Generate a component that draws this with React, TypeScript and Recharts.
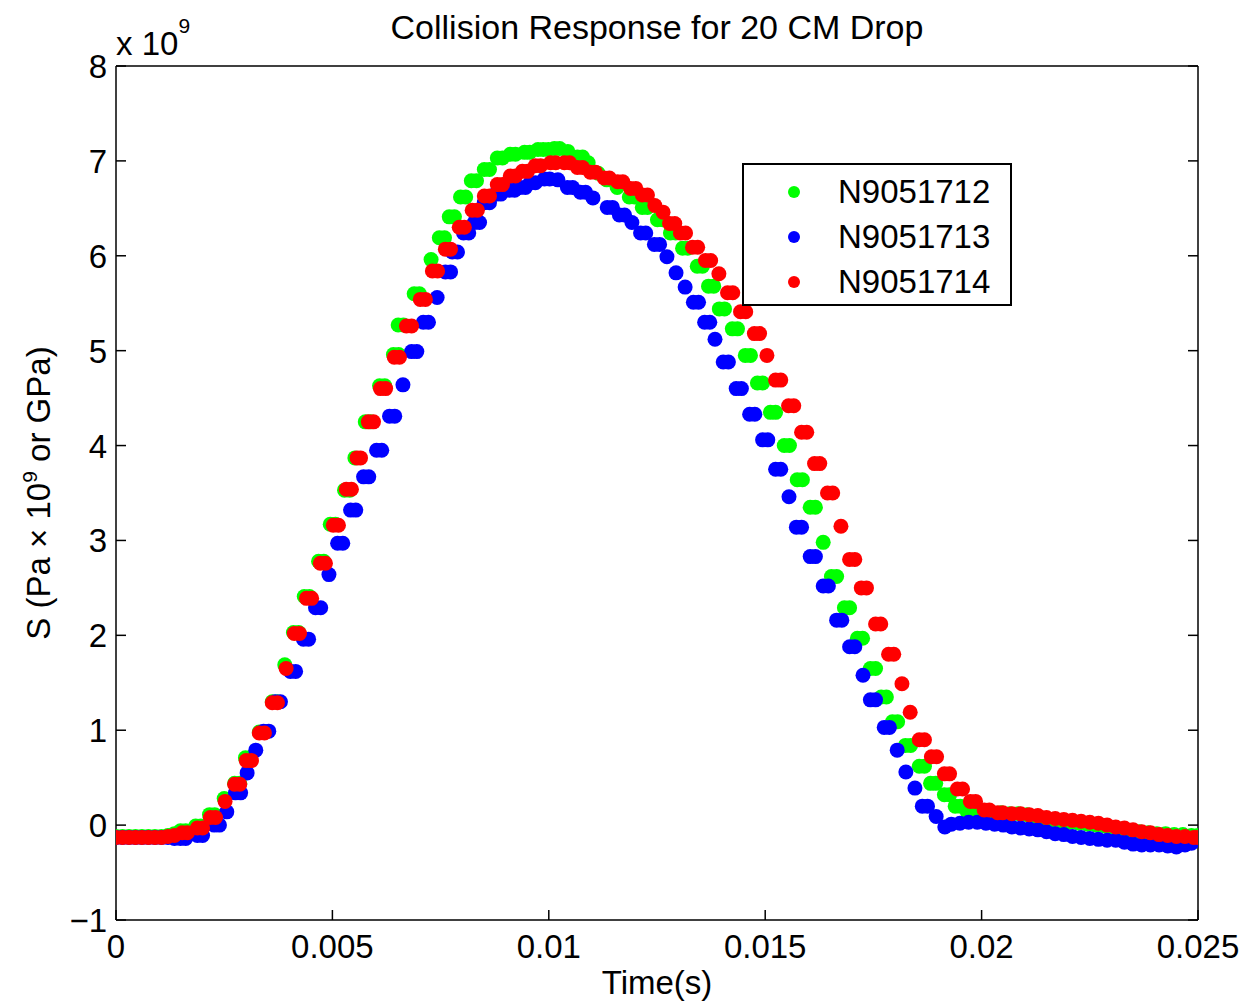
import { ScatterChart, Scatter, XAxis, YAxis, Legend } from 'recharts';

// time in ms, S in Pa x 10^9
const N9051712: [number, number][] = [
  [0, -0.12], [0.15, -0.12], [0.3, -0.12], [0.45, -0.12], [0.6, -0.12], [0.75, -0.12], [0.9, -0.12], [1.05, -0.12], [1.2, -0.11], [1.35, -0.09],
  [1.49, -0.06], [1.61, -0.06], [1.84, -0.01], [1.96, -0.01], [2.16, 0.11], [2.28, 0.11], [2.5, 0.28],
  [2.74, 0.44], [2.86, 0.44], [2.99, 0.71], [3.11, 0.71], [3.31, 0.98], [3.43, 0.98], [3.61, 1.3], [3.73, 1.3],
  [3.9, 1.69], [4.1, 2.03], [4.22, 2.03], [4.35, 2.41], [4.47, 2.41], [4.68, 2.78], [4.8, 2.78],
  [4.95, 3.17], [5.07, 3.17], [5.28, 3.53], [5.4, 3.53], [5.52, 3.87], [5.76, 4.25], [5.88, 4.25],
  [6.09, 4.63], [6.21, 4.63], [6.41, 4.96], [6.53, 4.96], [6.52, 5.27], [6.64, 5.27], [6.89, 5.6], [7.01, 5.6],
  [7.28, 5.96], [7.47, 6.19], [7.59, 6.19], [7.7, 6.41], [7.82, 6.41], [7.96, 6.62], [8.08, 6.62],
  [8.21, 6.79], [8.33, 6.79], [8.51, 6.91], [8.63, 6.91], [8.81, 7.03], [8.93, 7.03], [9.11, 7.07], [9.23, 7.07],
  [9.44, 7.09], [9.56, 7.09], [9.75, 7.12], [9.87, 7.12], [9.99, 7.12], [10.13, 7.13], [10.25, 7.13],
  [10.44, 7.1], [10.66, 7.04], [10.78, 7.04], [10.91, 6.98], [11.14, 6.87], [11.34, 6.8], [11.58, 6.72],
  [11.86, 6.62], [11.98, 6.62], [12.16, 6.51], [12.28, 6.51], [12.51, 6.38], [12.63, 6.38], [12.81, 6.24], [12.93, 6.24],
  [13.09, 6.08], [13.21, 6.08], [13.43, 5.89], [13.55, 5.89], [13.69, 5.68], [13.81, 5.68], [13.94, 5.44], [14.06, 5.44],
  [14.24, 5.23], [14.36, 5.23], [14.54, 4.95], [14.66, 4.95], [14.82, 4.66], [14.94, 4.66], [15.12, 4.35], [15.24, 4.35],
  [15.44, 4.0], [15.56, 4.0], [15.74, 3.64], [15.86, 3.64], [16.04, 3.35], [16.16, 3.35], [16.34, 2.98],
  [16.53, 2.62], [16.65, 2.62], [16.83, 2.29], [16.95, 2.29], [17.13, 1.97], [17.25, 1.97], [17.43, 1.65], [17.55, 1.65],
  [17.68, 1.35], [17.8, 1.35], [17.94, 1.09], [18.06, 1.09], [18.24, 0.84], [18.36, 0.84], [18.56, 0.62], [18.68, 0.62],
  [18.82, 0.44], [18.94, 0.44], [19.14, 0.32], [19.26, 0.32], [19.39, 0.2], [19.51, 0.2], [19.67, 0.14], [19.79, 0.14],
  [19.95, 0.13], [20.1, 0.13], [20.25, 0.13], [20.45, 0.13], [20.65, 0.12], [20.85, 0.12], [21.05, 0.11], [21.25, 0.09],
  [21.45, 0.07], [21.65, 0.05], [21.85, 0.04], [22.05, 0.03], [22.25, 0.02], [22.45, 0.01], [22.65, 0.0], [22.85, -0.01],
  [23.05, -0.03], [23.25, -0.04], [23.45, -0.06], [23.65, -0.07], [23.85, -0.08], [24.05, -0.09], [24.25, -0.09],
  [24.45, -0.1], [24.65, -0.1], [24.85, -0.11], [25.0, -0.11],
];

const N9051713: [number, number][] = [
  [0, -0.13], [0.15, -0.13], [0.3, -0.13], [0.45, -0.13], [0.6, -0.13], [0.75, -0.13], [0.9, -0.13], [1.05, -0.13], [1.2, -0.13], [1.35, -0.14],
  [1.49, -0.14], [1.61, -0.14], [1.88, -0.11], [2.0, -0.11], [2.27, 0.0], [2.39, 0.0], [2.56, 0.14],
  [2.76, 0.34], [2.88, 0.34], [3.03, 0.55], [3.23, 0.79], [3.41, 0.99], [3.53, 0.99], [3.68, 1.3], [3.8, 1.3],
  [4.03, 1.62], [4.15, 1.62], [4.33, 1.96], [4.45, 1.96], [4.61, 2.29], [4.73, 2.29], [4.92, 2.64],
  [5.12, 2.97], [5.24, 2.97], [5.42, 3.32], [5.54, 3.32], [5.72, 3.67], [5.84, 3.67], [6.02, 3.95], [6.14, 3.95],
  [6.32, 4.31], [6.44, 4.31], [6.63, 4.64], [6.83, 4.99], [6.95, 4.99], [7.1, 5.3], [7.22, 5.3], [7.42, 5.56],
  [7.61, 5.83], [7.73, 5.83], [7.77, 6.04], [7.89, 6.04], [8.03, 6.24], [8.15, 6.24], [8.28, 6.35], [8.4, 6.35],
  [8.51, 6.56], [8.63, 6.56], [8.77, 6.65], [8.89, 6.65], [9.09, 6.69], [9.21, 6.69], [9.34, 6.72], [9.46, 6.72],
  [9.57, 6.77], [9.69, 6.77], [9.9, 6.81], [10.02, 6.81], [10.21, 6.8], [10.43, 6.72], [10.55, 6.72],
  [10.73, 6.67], [10.85, 6.67], [11.02, 6.61], [11.35, 6.51], [11.47, 6.51], [11.63, 6.43], [11.75, 6.43], [11.92, 6.35],
  [12.12, 6.24], [12.24, 6.24], [12.44, 6.12], [12.56, 6.12], [12.73, 5.99], [12.94, 5.82], [13.15, 5.67],
  [13.34, 5.51], [13.46, 5.51], [13.6, 5.3], [13.72, 5.3], [13.84, 5.12], [14.03, 4.88], [14.15, 4.88],
  [14.33, 4.6], [14.45, 4.6], [14.64, 4.33], [14.76, 4.33], [14.94, 4.06], [15.06, 4.06], [15.24, 3.75], [15.36, 3.75],
  [15.55, 3.46], [15.72, 3.14], [15.84, 3.14], [16.04, 2.83], [16.16, 2.83], [16.34, 2.52], [16.46, 2.52],
  [16.65, 2.16], [16.77, 2.16], [16.95, 1.88], [17.07, 1.88], [17.26, 1.58], [17.43, 1.32], [17.55, 1.32],
  [17.75, 1.03], [17.87, 1.03], [18.05, 0.79], [18.25, 0.56], [18.46, 0.39], [18.63, 0.2], [18.75, 0.2],
  [18.95, 0.09], [19.15, -0.02], [19.3, 0.01], [19.5, 0.02], [19.7, 0.03], [19.9, 0.03], [20.1, 0.02], [20.3, 0.01],
  [20.5, 0.0], [20.7, -0.02], [20.9, -0.03], [21.1, -0.04], [21.3, -0.05], [21.5, -0.07], [21.7, -0.09], [21.9, -0.1],
  [22.1, -0.12], [22.3, -0.13], [22.5, -0.14], [22.7, -0.15], [22.9, -0.16], [23.1, -0.16], [23.3, -0.18], [23.5, -0.2],
  [23.7, -0.21], [23.9, -0.21], [24.1, -0.21], [24.3, -0.22], [24.5, -0.23], [24.7, -0.21], [24.85, -0.19], [25.0, -0.16],
];

const N9051714: [number, number][] = [
  [0, -0.13], [0.15, -0.13], [0.3, -0.13], [0.45, -0.13], [0.6, -0.13], [0.75, -0.13], [0.9, -0.13], [1.05, -0.13], [1.2, -0.12], [1.35, -0.11],
  [1.53, -0.08], [1.65, -0.08], [1.88, -0.03], [2.0, -0.03], [2.18, 0.08], [2.3, 0.08], [2.52, 0.25],
  [2.74, 0.43], [2.86, 0.43], [3.01, 0.68], [3.13, 0.68], [3.31, 0.97], [3.43, 0.97], [3.61, 1.29], [3.73, 1.29],
  [3.93, 1.65], [4.12, 2.02], [4.24, 2.02], [4.4, 2.39], [4.52, 2.39], [4.72, 2.76], [4.84, 2.76],
  [5.02, 3.16], [5.14, 3.16], [5.32, 3.54], [5.44, 3.54], [5.57, 3.87], [5.65, 3.87], [5.83, 4.25], [5.95, 4.25],
  [6.11, 4.6], [6.23, 4.6], [6.43, 4.93], [6.55, 4.93], [6.71, 5.26], [6.83, 5.26], [7.03, 5.54], [7.15, 5.54],
  [7.31, 5.84], [7.43, 5.84], [7.61, 6.07], [7.73, 6.07], [7.93, 6.3], [8.05, 6.3], [8.23, 6.48], [8.35, 6.48],
  [8.51, 6.63], [8.63, 6.63], [8.81, 6.75], [8.93, 6.75], [9.11, 6.84], [9.23, 6.84], [9.39, 6.89], [9.51, 6.89],
  [9.69, 6.95], [9.81, 6.95], [10.04, 6.98], [10.16, 6.98], [10.36, 6.98], [10.48, 6.98], [10.66, 6.93], [10.78, 6.93],
  [10.96, 6.88], [11.08, 6.88], [11.28, 6.82], [11.4, 6.82], [11.59, 6.78], [11.71, 6.78], [11.89, 6.71], [12.01, 6.71],
  [12.16, 6.64], [12.28, 6.64], [12.45, 6.53], [12.64, 6.46], [12.79, 6.34], [12.91, 6.34], [13.04, 6.24], [13.16, 6.24],
  [13.32, 6.09], [13.44, 6.09], [13.62, 5.95], [13.74, 5.95], [13.93, 5.81], [14.13, 5.61], [14.25, 5.61],
  [14.43, 5.41], [14.55, 5.41], [14.75, 5.18], [14.87, 5.18], [15.04, 4.95], [15.24, 4.69], [15.36, 4.69],
  [15.54, 4.42], [15.66, 4.42], [15.84, 4.14], [15.96, 4.14], [16.14, 3.81], [16.26, 3.81], [16.44, 3.5], [16.56, 3.5],
  [16.75, 3.15], [16.95, 2.8], [17.07, 2.8], [17.22, 2.5], [17.34, 2.5], [17.55, 2.12], [17.67, 2.12],
  [17.85, 1.8], [17.97, 1.8], [18.16, 1.49], [18.35, 1.19], [18.56, 0.9], [18.68, 0.9], [18.84, 0.72], [18.96, 0.72],
  [19.14, 0.54], [19.26, 0.54], [19.44, 0.38], [19.56, 0.38], [19.74, 0.25], [19.86, 0.25], [20.06, 0.16], [20.18, 0.16],
  [20.37, 0.13], [20.49, 0.13], [20.7, 0.12], [20.9, 0.12], [21.1, 0.11], [21.3, 0.1], [21.5, 0.08], [21.7, 0.07],
  [21.9, 0.06], [22.1, 0.05], [22.3, 0.04], [22.5, 0.03], [22.7, 0.02], [22.9, 0.0], [23.1, -0.02], [23.3, -0.03],
  [23.5, -0.05], [23.7, -0.07], [23.9, -0.08], [24.1, -0.1], [24.3, -0.11], [24.5, -0.12], [24.7, -0.12], [24.9, -0.13], [25.0, -0.13],
];

const SERIES = [
  { name: 'N9051712', points: N9051712, color: '#00ff00' },
  { name: 'N9051713', points: N9051713, color: '#0000ff' },
  { name: 'N9051714', points: N9051714, color: '#ff0000' },
];

const X_TICKS = [0, 5, 10, 15, 20, 25];
const X_TICK_LABELS = ['0', '0.005', '0.01', '0.015', '0.02', '0.025'];
const Y_TICKS = [-1, 0, 1, 2, 3, 4, 5, 6, 7, 8];
const Y_TICK_LABELS = ['\u22121', '0', '1', '2', '3', '4', '5', '6', '7', '8'];

const W = 1247;
const H = 1005;
const PLOT = { left: 116, top: 66, right: 1198, bottom: 920 };
const FONT = '"Liberation Sans", Arial, Helvetica, sans-serif';
const FS = 33;
const TICK_LEN = 10;

const BottomTick = ({ x, payload }: any) => (
  <g>
    <line x1={x} x2={x} y1={PLOT.bottom} y2={PLOT.bottom - TICK_LEN} stroke="#000" strokeWidth={1.5} />
    <text x={x} y={PLOT.bottom + 38} textAnchor="middle" fontSize={FS} fontFamily={FONT} fill="#000">
      {X_TICK_LABELS[X_TICKS.indexOf(payload.value)]}
    </text>
  </g>
);

const TopTick = ({ x }: any) => (
  <line x1={x} x2={x} y1={PLOT.top} y2={PLOT.top + TICK_LEN} stroke="#000" strokeWidth={1.5} />
);

const LeftTick = ({ y, payload }: any) => (
  <g>
    <line x1={PLOT.left} x2={PLOT.left + TICK_LEN} y1={y} y2={y} stroke="#000" strokeWidth={1.5} />
    <text x={PLOT.left - 9} y={y + 12} textAnchor="end" fontSize={FS} fontFamily={FONT} fill="#000">
      {Y_TICK_LABELS[Y_TICKS.indexOf(payload.value)]}
    </text>
  </g>
);

const RightTick = ({ y }: any) => (
  <line x1={PLOT.right} x2={PLOT.right - TICK_LEN} y1={y} y2={y} stroke="#000" strokeWidth={1.5} />
);

const dot = (color: string) => (props: any) => <circle cx={props.cx} cy={props.cy} r={7.5} fill={color} />;

const LegendBox = () => (
  <div
    style={{
      position: 'relative',
      width: 270,
      height: 143,
      boxSizing: 'border-box',
      border: '2px solid #000',
      background: '#fff',
      fontFamily: FONT,
      fontSize: FS,
      color: '#000',
    }}
  >
    {SERIES.map((s, i) => (
      <div key={s.name} style={{ position: 'absolute', left: 0, top: 4 + i * 45, height: 45, display: 'flex', alignItems: 'center' }}>
        <span style={{ display: 'inline-block', width: 12, height: 12, borderRadius: '50%', background: s.color, marginLeft: 44 }} />
        <span style={{ marginLeft: 38, lineHeight: '45px' }}>{s.name}</span>
      </div>
    ))}
  </div>
);

export default function App() {
  return (
    <div style={{ position: 'absolute', left: 0, top: 0, width: W, height: H, background: '#fff' }}>
      <ScatterChart
        width={W}
        height={H}
        margin={{ top: PLOT.top - 20, right: W - PLOT.right - 20, bottom: H - PLOT.bottom - 30, left: PLOT.left - 60 }}
      >
        <XAxis
          xAxisId="b"
          dataKey="t"
          type="number"
          domain={[0, 25]}
          ticks={X_TICKS}
          interval={0}
          allowDataOverflow
          height={30}
          axisLine={{ stroke: '#000', strokeWidth: 1.5 }}
          tickLine={false}
          tick={BottomTick}
        />
        <XAxis
          xAxisId="t"
          orientation="top"
          type="number"
          domain={[0, 25]}
          ticks={X_TICKS}
          interval={0}
          allowDataOverflow
          height={20}
          axisLine={{ stroke: '#000', strokeWidth: 1.5 }}
          tickLine={false}
          tick={TopTick}
        />
        <YAxis
          yAxisId="l"
          dataKey="s"
          type="number"
          domain={[-1, 8]}
          ticks={Y_TICKS}
          interval={0}
          allowDataOverflow
          width={60}
          axisLine={{ stroke: '#000', strokeWidth: 1.5 }}
          tickLine={false}
          tick={LeftTick}
        />
        <YAxis
          yAxisId="r"
          orientation="right"
          type="number"
          domain={[-1, 8]}
          ticks={Y_TICKS}
          interval={0}
          allowDataOverflow
          width={20}
          axisLine={{ stroke: '#000', strokeWidth: 1.5 }}
          tickLine={false}
          tick={RightTick}
        />
        <Legend
          layout="horizontal"
          verticalAlign="middle"
          align="center"
          wrapperStyle={{ position: 'absolute', left: 742, top: 163, width: 270, height: 143 }}
          content={() => <LegendBox />}
        />
        {SERIES.map((s) => (
          <Scatter
            key={s.name}
            name={s.name}
            xAxisId="b"
            yAxisId="l"
            data={s.points.map(([t, v]) => ({ t, s: v }))}
            fill={s.color}
            shape={dot(s.color)}
            isAnimationActive={false}
          />
        ))}
      </ScatterChart>
      <svg width={W} height={H} style={{ position: 'absolute', left: 0, top: 0, pointerEvents: 'none' }}>
        <text x={(PLOT.left + PLOT.right) / 2} y={39} textAnchor="middle" fontSize={34} fontFamily={FONT}>
          Collision Response for 20 CM Drop
        </text>
        <text x={PLOT.left} y={55} fontSize={FS} fontFamily={FONT}>
          x 10<tspan dy={-22} fontSize={21}>9</tspan>
        </text>
        <text x={(PLOT.left + PLOT.right) / 2} y={994} textAnchor="middle" fontSize={FS} fontFamily={FONT}>
          Time(s)
        </text>
        <text transform="translate(50,493) rotate(-90)" textAnchor="middle" fontSize={FS} fontFamily={FONT}>
          S (Pa × 10<tspan dy={-13} fontSize={21}>9</tspan>
          <tspan dy={13}> or GPa)</tspan>
        </text>
      </svg>
    </div>
  );
}
